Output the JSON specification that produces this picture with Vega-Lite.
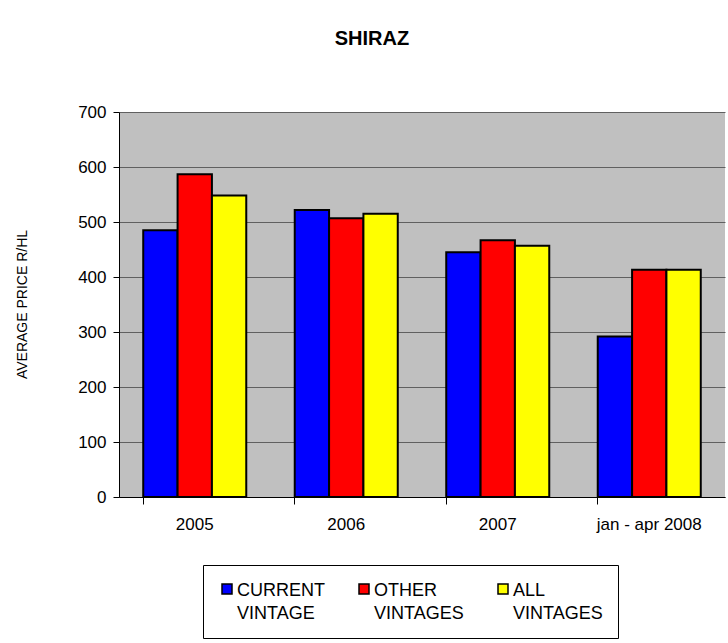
{
  "$schema": "https://vega.github.io/schema/vega-lite/v6.json",
  "autosize": "none",
  "padding": {"left": 119, "top": 112, "right": 3, "bottom": 146},
  "width": 606,
  "height": 385,
  "background": "white",
  "title": {
    "text": "SHIRAZ",
    "font": "Liberation Sans",
    "fontSize": 20,
    "fontWeight": "bold",
    "color": "black",
    "anchor": "middle",
    "dx": -50,
    "offset": 38,
    "baseline": "alphabetic"
  },
  "data": {
    "values": [
      {"period": "2005", "series": "CURRENT VINTAGE", "price": 485},
      {"period": "2005", "series": "OTHER VINTAGES", "price": 587},
      {"period": "2005", "series": "ALL VINTAGES", "price": 548},
      {"period": "2006", "series": "CURRENT VINTAGE", "price": 522},
      {"period": "2006", "series": "OTHER VINTAGES", "price": 507},
      {"period": "2006", "series": "ALL VINTAGES", "price": 515},
      {"period": "2007", "series": "CURRENT VINTAGE", "price": 445},
      {"period": "2007", "series": "OTHER VINTAGES", "price": 467},
      {"period": "2007", "series": "ALL VINTAGES", "price": 457},
      {"period": "jan - apr 2008", "series": "CURRENT VINTAGE", "price": 292},
      {"period": "jan - apr 2008", "series": "OTHER VINTAGES", "price": 413},
      {"period": "jan - apr 2008", "series": "ALL VINTAGES", "price": 413}
    ]
  },
  "mark": {"type": "bar", "stroke": "black", "strokeWidth": 2},
  "encoding": {
    "x": {
      "field": "period",
      "type": "nominal",
      "sort": ["2005", "2006", "2007", "jan - apr 2008"],
      "scale": {"paddingInner": 0.32, "paddingOuter": 0.16},
      "axis": {
        "title": null,
        "labelAngle": 0,
        "bandPosition": 0,
        "grid": false,
        "tickSize": 7,
        "tickColor": "black",
        "domainColor": "black",
        "domainWidth": 1,
        "labelPadding": 12,
        "labelFontSize": 17,
        "labelFont": "Liberation Sans",
        "labelColor": "black"
      }
    },
    "xOffset": {
      "field": "series",
      "type": "nominal",
      "sort": ["CURRENT VINTAGE", "OTHER VINTAGES", "ALL VINTAGES"],
      "scale": {"paddingInner": 0, "paddingOuter": 0}
    },
    "y": {
      "field": "price",
      "type": "quantitative",
      "scale": {"domain": [0, 700], "nice": false},
      "axis": {
        "title": "AVERAGE PRICE R/HL",
        "titleFont": "Liberation Sans",
        "titleFontSize": 14,
        "titleFontWeight": "normal",
        "titleColor": "black",
        "titleX": -97,
        "titleY": 192,
        "titleAngle": -90,
        "titleAlign": "center",
        "titleBaseline": "middle",
        "values": [0, 100, 200, 300, 400, 500, 600, 700],
        "grid": true,
        "gridColor": "#606060",
        "gridWidth": 1,
        "gridOpacity": 1,
        "tickSize": 6,
        "tickColor": "black",
        "domainColor": "black",
        "labelPadding": 7,
        "labelFontSize": 17,
        "labelFont": "Liberation Sans",
        "labelColor": "black"
      }
    },
    "color": {
      "field": "series",
      "type": "nominal",
      "sort": ["CURRENT VINTAGE", "OTHER VINTAGES", "ALL VINTAGES"],
      "scale": {
        "domain": ["CURRENT VINTAGE", "OTHER VINTAGES", "ALL VINTAGES"],
        "range": ["#0000FF", "#FF0000", "#FFFF00"]
      },
      "legend": {
        "title": null,
        "orient": "none",
        "legendX": 84,
        "legendY": 453,
        "direction": "horizontal",
        "columns": 3,
        "padding": 15,
        "strokeColor": "black",
        "fillColor": "white",
        "columnPadding": 30,
        "labelOffset": 1,
        "labelFontSize": 18,
        "labelFont": "Liberation Sans",
        "labelColor": "black",
        "labelBaseline": "top",
        "labelLimit": 300,
        "labelExpr": "split(datum.label, ' ')",
        "symbolType": "square",
        "symbolSize": 100,
        "symbolStrokeColor": "black",
        "symbolStrokeWidth": 1.5,
        "symbolOpacity": 1,
        "encode": {
          "labels": {"update": {"dy": {"value": -7}}}
        }
      }
    }
  },
  "config": {
    "view": {"fill": "#C0C0C0", "stroke": null},
    "style": {"guide-label": {"lineHeight": 23}}
  }
}
